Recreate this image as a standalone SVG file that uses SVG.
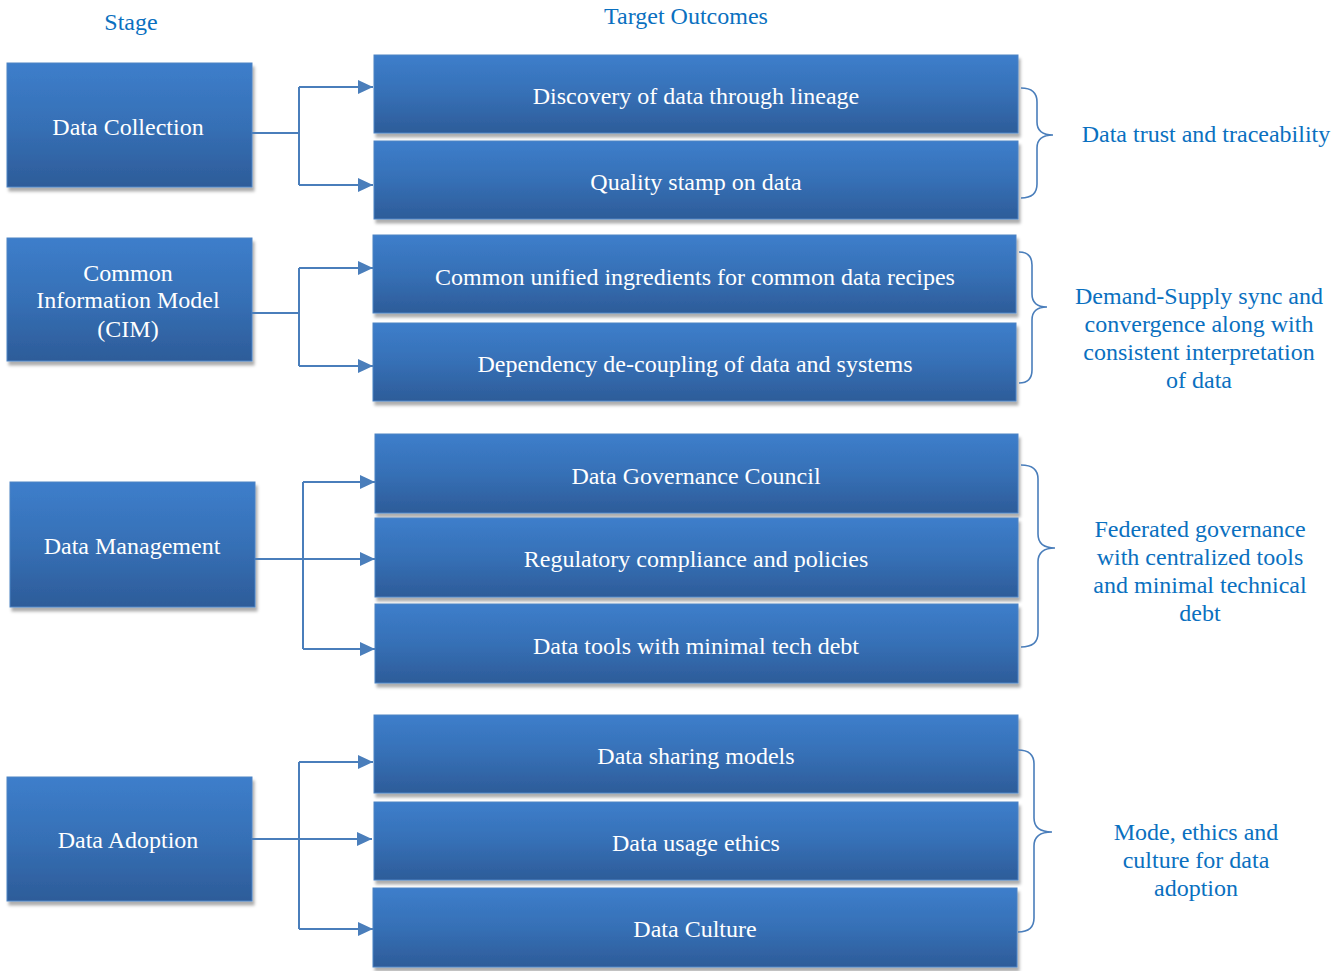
<svg xmlns="http://www.w3.org/2000/svg" width="1341" height="971" viewBox="0 0 1341 971">
  <defs>
    <linearGradient id="boxFill" x1="0" y1="0" x2="0" y2="1">
      <stop offset="0" stop-color="#3d7ecb"/>
      <stop offset="0.5" stop-color="#3670b6"/>
      <stop offset="1" stop-color="#2d5c99"/>
    </linearGradient>
    <filter id="shadow" x="-5%" y="-10%" width="115%" height="130%">
      <feDropShadow dx="2" dy="4" stdDeviation="1.6" flood-color="#000" flood-opacity="0.32"/>
    </filter>
    <marker id="arrow" markerUnits="userSpaceOnUse" markerWidth="16" markerHeight="16" refX="15" refY="7" orient="auto">
      <path d="M0,0 L15,7 L0,14 Z" fill="#4a7ebb"/>
    </marker>
    <style>
      .box { fill: url(#boxFill); stroke: #4d83c4; stroke-width: 1; filter: url(#shadow); }
      .lbl { font-family: "Liberation Serif", "Times New Roman", serif; font-size: 24px; fill: #ffffff; text-anchor: middle; }
      .note { font-family: "Liberation Serif", "Times New Roman", serif; font-size: 24px; fill: #0a70c0; text-anchor: middle; }
      .conn { fill: none; stroke: #4a7ebb; stroke-width: 2; }
      .brace { fill: none; stroke: #4a7ebb; stroke-width: 1.6; }
    </style>
  </defs>

  <rect width="1341" height="971" fill="#ffffff"/>

  <!-- column headers -->
  <text class="note" x="131" y="30">Stage</text>
  <text class="note" x="686" y="24">Target Outcomes</text>

  <!-- stage nodes -->
  <g id="stage-collection">
    <rect class="box" x="7" y="63" width="245" height="124"/>
    <text class="lbl" x="128" y="135">Data Collection</text>
  </g>
  <g id="stage-cim">
    <rect class="box" x="7" y="238" width="245" height="123"/>
    <text class="lbl" x="128" y="281">Common</text>
    <text class="lbl" x="128" y="308">Information Model</text>
    <text class="lbl" x="128" y="337">(CIM)</text>
  </g>
  <g id="stage-management">
    <rect class="box" x="10" y="482" width="245" height="125"/>
    <text class="lbl" x="132" y="554">Data Management</text>
  </g>
  <g id="stage-adoption">
    <rect class="box" x="7" y="777" width="245" height="124"/>
    <text class="lbl" x="128" y="848">Data Adoption</text>
  </g>

  <!-- outcome nodes -->
  <g id="outcome-lineage">
    <rect class="box" x="374" y="55" width="644" height="78"/>
    <text class="lbl" x="696" y="104">Discovery of data through lineage</text>
  </g>
  <g id="outcome-quality">
    <rect class="box" x="374" y="141" width="644" height="78"/>
    <text class="lbl" x="696" y="190">Quality stamp on data</text>
  </g>
  <g id="outcome-ingredients">
    <rect class="box" x="373" y="235" width="643" height="78"/>
    <text class="lbl" x="695" y="285">Common unified ingredients for common data recipes</text>
  </g>
  <g id="outcome-decoupling">
    <rect class="box" x="373" y="323" width="643" height="78"/>
    <text class="lbl" x="695" y="372">Dependency de-coupling of data and systems</text>
  </g>
  <g id="outcome-council">
    <rect class="box" x="375" y="434" width="643" height="79"/>
    <text class="lbl" x="696" y="484">Data Governance Council</text>
  </g>
  <g id="outcome-compliance">
    <rect class="box" x="375" y="518" width="643" height="79"/>
    <text class="lbl" x="696" y="567">Regulatory compliance and policies</text>
  </g>
  <g id="outcome-tools">
    <rect class="box" x="375" y="604" width="643" height="79"/>
    <text class="lbl" x="696" y="654">Data tools with minimal tech debt</text>
  </g>
  <g id="outcome-sharing">
    <rect class="box" x="374" y="715" width="644" height="78"/>
    <text class="lbl" x="696" y="764">Data sharing models</text>
  </g>
  <g id="outcome-ethics">
    <rect class="box" x="374" y="802" width="644" height="78"/>
    <text class="lbl" x="696" y="851">Data usage ethics</text>
  </g>
  <g id="outcome-culture">
    <rect class="box" x="373" y="888" width="644" height="79"/>
    <text class="lbl" x="695" y="937">Data Culture</text>
  </g>

  <!-- connectors: stage to outcomes -->
  <g id="connectors">
    <path class="conn" d="M252,133 H299 M299,87 V185"/>
    <path class="conn" d="M299,87 H373" marker-end="url(#arrow)"/>
    <path class="conn" d="M299,185 H373" marker-end="url(#arrow)"/>

    <path class="conn" d="M252,313 H299 M299,268 V366"/>
    <path class="conn" d="M299,268 H373" marker-end="url(#arrow)"/>
    <path class="conn" d="M299,366 H373" marker-end="url(#arrow)"/>

    <path class="conn" d="M255,559 H303 M303,482 V649"/>
    <path class="conn" d="M303,482 H375" marker-end="url(#arrow)"/>
    <path class="conn" d="M303,559 H375" marker-end="url(#arrow)"/>
    <path class="conn" d="M303,649 H375" marker-end="url(#arrow)"/>

    <path class="conn" d="M252,839 H299 M299,762 V929"/>
    <path class="conn" d="M299,762 H373" marker-end="url(#arrow)"/>
    <path class="conn" d="M299,839 H372" marker-end="url(#arrow)"/>
    <path class="conn" d="M299,929 H373" marker-end="url(#arrow)"/>
  </g>

  <!-- braces grouping outcomes -->
  <g id="braces">
    <path class="brace" d="M1021,88 Q1037,88 1037,102 V122 Q1037,135 1053,135 Q1037,135 1037,148 V184 Q1037,198 1021,198"/>
    <path class="brace" d="M1019,252 Q1032,252 1032,265 V294 Q1032,307 1047,307 Q1032,307 1032,320 V370 Q1032,383 1019,383"/>
    <path class="brace" d="M1021,465 Q1038,465 1038,479 V534 Q1038,548 1055,548 Q1038,548 1038,562 V633 Q1038,647 1021,647"/>
    <path class="brace" d="M1018,750 Q1034,750 1034,764 V818 Q1034,832 1052,832 Q1034,832 1034,846 V918 Q1034,932 1018,932"/>
  </g>

  <!-- group summaries -->
  <g id="summary-trust">
    <text class="note" x="1206" y="142">Data trust and traceability</text>
  </g>
  <g id="summary-sync">
    <text class="note" x="1199" y="304">Demand-Supply sync and</text>
    <text class="note" x="1199" y="332">convergence along with</text>
    <text class="note" x="1199" y="360">consistent interpretation</text>
    <text class="note" x="1199" y="388">of data</text>
  </g>
  <g id="summary-governance">
    <text class="note" x="1200" y="537">Federated governance</text>
    <text class="note" x="1200" y="565">with centralized tools</text>
    <text class="note" x="1200" y="593">and minimal technical</text>
    <text class="note" x="1200" y="621">debt</text>
  </g>
  <g id="summary-adoption">
    <text class="note" x="1196" y="840">Mode, ethics and</text>
    <text class="note" x="1196" y="868">culture for data</text>
    <text class="note" x="1196" y="896">adoption</text>
  </g>
</svg>
